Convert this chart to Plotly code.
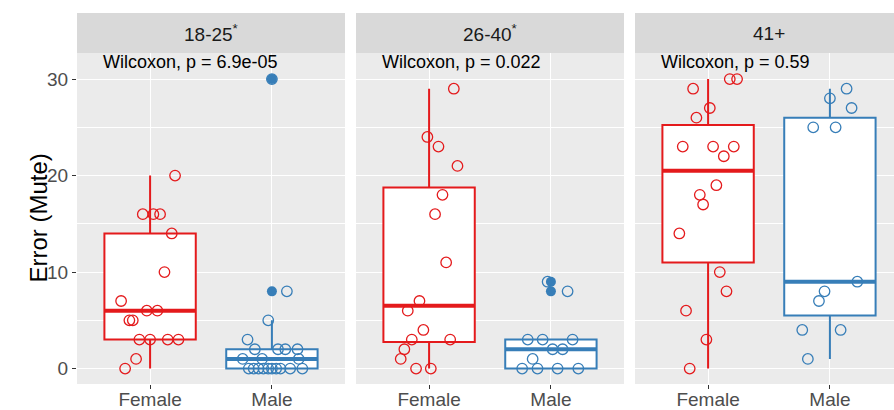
import numpy as np
import plotly.graph_objects as go

# ---------------- data ----------------
age_groups = ["18-25", "26-40", "41+"]
strip_labels = ["18-25<sup>*</sup>", "26-40<sup>*</sup>", "41+"]
p_labels = ["Wilcoxon, p = 6.9e-05", "Wilcoxon, p = 0.022", "Wilcoxon, p = 0.59"]
sex_labels = ["Female", "Male"]
y_ticks = [0, 10, 20, 30]

female_1825 = [20, 16, 16, 16, 14, 10, 7, 6, 6, 5, 5, 3, 3, 3, 3, 1, 0]
female_1825_jit = [0.205, -0.06, 0.027, 0.082, 0.178, 0.118, -0.238, -0.027, 0.06,
                   -0.17, -0.142, -0.088, 0.0, 0.145, 0.233, -0.115, -0.205]
male_1825 = [30, 8, 5, 3, 2, 2, 2, 2, 1, 1, 1, 0, 0, 0, 0, 0, 0, 0, 0, 0, 0]
male_1825_jit = [0.0, 0.123, -0.03, -0.2, -0.14, 0.05, 0.11, 0.21, -0.24, -0.08, 0.22,
                 -0.19, -0.15, -0.11, -0.07, -0.03, 0.0, 0.035, 0.07, 0.15, 0.25]

female_2640 = [29, 24, 23, 21, 18, 16, 11, 7, 6, 4, 3, 3, 2, 1, 0, 0]
female_2640_jit = [0.203, -0.014, 0.077, 0.233, 0.11, 0.049, 0.14, -0.079, -0.175,
                   -0.047, -0.142, 0.173, -0.203, -0.233, -0.107, 0.014]
male_2640 = [9, 8, 3, 3, 3, 2, 2, 1, 0, 0, 0, 0]
male_2640_jit = [-0.027, 0.137, -0.19, -0.068, 0.178, 0.014, 0.096, -0.15,
                 -0.236, -0.11, 0.055, 0.225]

female_41 = [30, 30, 29, 27, 26, 23, 23, 23, 22, 19, 18, 17, 14, 10, 8, 6, 3, 0]
female_41_jit = [0.178, 0.238, -0.123, 0.014, -0.096, -0.208, 0.041, 0.211, 0.129,
                 0.068, -0.068, -0.041, -0.236, 0.096, 0.151, -0.181, -0.014, -0.151]
male_41 = [29, 28, 27, 25, 25, 9, 8, 7, 4, 4, 1]
male_41_jit = [0.137, 0.0, 0.178, -0.137, 0.047, 0.225, -0.044, -0.09, -0.227, 0.088, -0.181]

panels = [
    [(female_1825, female_1825_jit), (male_1825, male_1825_jit)],
    [(female_2640, female_2640_jit), (male_2640, male_2640_jit)],
    [(female_41, female_41_jit), (male_41, male_41_jit)],
]

# ---------------- style ----------------
colors = ["#E41A1C", "#377EB8"]
W, H = 894, 410
panel_px = [(77, 345), (356, 624), (635, 894)]
px_per_unit = 268 / 2.2
y_dom = [(410 - 384) / H, (410 - 53) / H]
strip_top = (410 - 13) / H
y_range = [-1.6, 32.7]
FONT = "Liberation Sans, Arial, sans-serif"

fig = go.Figure()


def box_stats(vals):
    v = np.array(vals, dtype=float)
    q1, med, q3 = np.percentile(v, [25, 50, 75])
    iqr = q3 - q1
    lo_f, hi_f = q1 - 1.5 * iqr, q3 + 1.5 * iqr
    inside = v[(v >= lo_f) & (v <= hi_f)]
    out = v[(v < lo_f) | (v > hi_f)]
    return q1, med, q3, inside.min(), inside.max(), out


for i, groups in enumerate(panels):
    xa = "x" if i == 0 else f"x{i+1}"
    ya = "y" if i == 0 else f"y{i+1}"
    for j, (vals, jit) in enumerate(groups):
        xc = j + 1
        col = colors[j]
        q1, med, q3, lo, hi, out = box_stats(vals)
        fig.add_trace(go.Box(
            x=[xc], q1=[q1], median=[med], q3=[q3], lowerfence=[lo], upperfence=[hi],
            width=0.75, whiskerwidth=0, fillcolor="white",
            line=dict(color=col, width=2), boxpoints=False,
            xaxis=xa, yaxis=ya, showlegend=False, hoverinfo="skip"))
        # thicker median line (ggplot style)
        fig.add_trace(go.Scatter(
            x=[xc - 0.375, xc + 0.375], y=[med, med], mode="lines",
            line=dict(color=col, width=4), xaxis=xa, yaxis=ya,
            showlegend=False, hoverinfo="skip"))
        # outliers (filled)
        if len(out):
            fig.add_trace(go.Scatter(
                x=[xc] * len(out), y=list(out), mode="markers",
                marker=dict(color=col, size=10, symbol="circle", line=dict(width=0)),
                xaxis=xa, yaxis=ya, showlegend=False, hoverinfo="skip"))
        # jittered open points
        fig.add_trace(go.Scatter(
            x=[xc + d for d in jit], y=vals, mode="markers",
            marker=dict(color=col, size=10.5, symbol="circle-open", line=dict(width=1.3, color=col)),
            xaxis=xa, yaxis=ya, showlegend=False, hoverinfo="skip"))

layout = dict(
    width=W, height=H, margin=dict(l=0, r=0, t=0, b=0, autoexpand=False),
    paper_bgcolor="white", plot_bgcolor="#EBEBEB",
    font=dict(family=FONT), boxmode="overlay",
)

shapes = []
annotations = []
for i in range(3):
    x0, x1 = panel_px[i]
    width_units = (x1 - x0) / px_per_unit
    xk = "xaxis" if i == 0 else f"xaxis{i+1}"
    yk = "yaxis" if i == 0 else f"yaxis{i+1}"
    ya = "y" if i == 0 else f"y{i+1}"
    xa = "x" if i == 0 else f"x{i+1}"
    layout[xk] = dict(
        domain=[x0 / W, x1 / W], anchor=ya, range=[0.4, 0.4 + width_units],
        tickvals=[1, 2], ticktext=sex_labels, showgrid=True, gridcolor="white", gridwidth=1.3,
        zeroline=False, ticks="outside", ticklen=4, tickwidth=1.2, tickcolor="#333333",
        tickfont=dict(size=19, color="#4D4D4D", family=FONT), showline=False, fixedrange=True,
        automargin=False, ticklabelstandoff=-6)
    layout[yk] = dict(
        domain=list(y_dom), anchor=xa, range=y_range, tickvals=y_ticks,
        showgrid=True, gridcolor="white", gridwidth=1.3, zeroline=False,
        minor=dict(tickvals=[5, 15, 25], showgrid=True, gridcolor="white", gridwidth=0.6, ticks=""),
        showticklabels=(i == 0), ticks="outside" if i == 0 else "", ticklen=4, tickwidth=1.2,
        tickcolor="#333333", tickfont=dict(size=19, color="#4D4D4D", family=FONT),
        showline=False, fixedrange=True, automargin=False)
    shapes.append(dict(type="rect", xref="paper", yref="paper", x0=x0 / W, x1=x1 / W,
                       y0=y_dom[1], y1=strip_top, fillcolor="#D9D9D9", line=dict(width=0),
                       layer="below"))
    annotations.append(dict(text=strip_labels[i], xref="paper", yref="paper",
                            x=(x0 + x1) / 2 / W if i < 2 else (x0 + x0 + 268) / 2 / W,
                            y=(y_dom[1] + strip_top) / 2, xanchor="center", yanchor="middle",
                            showarrow=False, font=dict(size=19, color="#1A1A1A", family=FONT)))
    annotations.append(dict(text=p_labels[i], xref=xa, yref=ya, x=0.6, y=31.75,
                            xanchor="left", yanchor="middle", showarrow=False,
                            font=dict(size=18, color="black", family=FONT)))

annotations.append(dict(text="Error (Mute)", xref="paper", yref="paper", x=38 / W,
                        y=(y_dom[0] + y_dom[1]) / 2, textangle=-90, xanchor="center",
                        yanchor="middle", showarrow=False,
                        font=dict(size=24, color="black", family=FONT)))

layout["shapes"] = shapes
layout["annotations"] = annotations
fig.update_layout(**layout)

fig.write_html("out.html")
